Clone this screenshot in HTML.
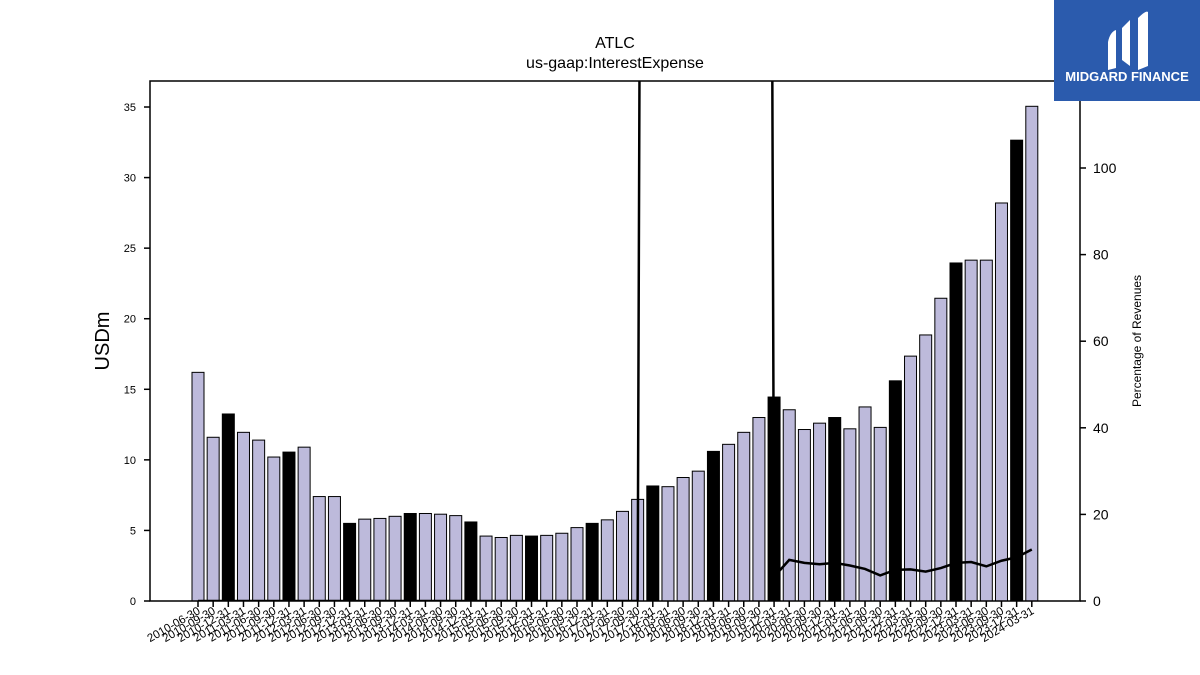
<!DOCTYPE html>
<html><head><meta charset="utf-8"><style>
body{margin:0;background:#fff;width:1200px;height:675px;overflow:hidden;font-family:"Liberation Sans","DejaVu Sans",sans-serif}
svg{display:block}
</style></head><body>
<svg id="chart" width="1200" height="675" viewBox="0 0 1200 675">
<text x="615" y="48" text-anchor="middle" font-size="16">ATLC</text>
<text x="615" y="68" text-anchor="middle" font-size="16">us-gaap:InterestExpense</text>
<g id="bars"></g>
<g id="xt"></g>
<g id="yl"></g>
<g id="yr"></g>
<clipPath id="clip"><rect x="150" y="81" width="930" height="520"/></clipPath>
<path id="pline" clip-path="url(#clip)" fill="none" stroke="#000" stroke-width="2.5"/>
<rect x="150" y="81" width="930" height="520" fill="none" stroke="#000" stroke-width="1.5"/>
<text transform="translate(109,341) rotate(-90)" text-anchor="middle" font-size="20">USDm</text>
<text transform="translate(1141,341) rotate(-90)" text-anchor="middle" font-size="12">Percentage of Revenues</text>
<g>
<rect x="1054" y="0" width="146" height="101" fill="#2b5bad"/>
<path d="M1108 42 Q1110 32 1116 30 L1116 68 L1108 70 Z" fill="#fff"/>
<path d="M1122 28 L1130 20 L1130 66 L1122 60 Z" fill="#fff"/>
<path d="M1138 18 Q1146 10 1148 12 L1148 66 L1138 70 Z" fill="#fff"/>
<text x="1127" y="81" text-anchor="middle" font-size="13" font-weight="bold" fill="#fff">MIDGARD FINANCE</text>
</g>
</svg>
<script>
const categories=["2010-06-30","2010-09-30","2010-12-31","2011-03-31","2011-06-30","2011-09-30","2011-12-31","2012-03-31","2012-06-30","2012-09-30","2012-12-31","2013-03-31","2013-06-30","2013-09-30","2013-12-31","2014-03-31","2014-06-30","2014-09-30","2014-12-31","2015-03-31","2015-06-30","2015-09-30","2015-12-31","2016-03-31","2016-06-30","2016-09-30","2016-12-31","2017-03-31","2017-06-30","2017-09-30","2017-12-31","2018-03-31","2018-06-30","2018-09-30","2018-12-31","2019-03-31","2019-06-30","2019-09-30","2019-12-31","2020-03-31","2020-06-30","2020-09-30","2020-12-31","2021-03-31","2021-06-30","2021-09-30","2021-12-31","2022-03-31","2022-06-30","2022-09-30","2022-12-31","2023-03-31","2023-06-30","2023-09-30","2023-12-31","2024-03-31"];
const expense=[16.2,11.6,13.25,11.95,11.4,10.2,10.55,10.9,7.4,7.4,5.5,5.8,5.85,6.0,6.2,6.2,6.15,6.05,5.6,4.6,4.5,4.65,4.6,4.65,4.8,5.2,5.5,5.75,6.35,7.2,8.15,8.1,8.75,9.2,10.6,11.1,11.95,13.0,14.45,13.55,12.15,12.6,13.0,12.2,13.75,12.3,15.6,17.35,18.85,21.45,23.95,24.15,24.15,28.2,32.65,35.05];
const pct=[0,0,0,0,0,0,0,0,0,0,0,0,0,0,0,0,0,0,0,0,0,0,0,0,0,0,0,0,0,0,1000,1000,1000,1000,1000,1000,1000,1000,5.6,9.5,8.8,8.5,8.8,8.2,7.4,5.9,7.2,7.3,6.8,7.6,8.8,9.0,8.0,9.3,10.1,11.9];
const leftTicks=[0,5,10,15,20,25,30,35];
const rightTicks=[0,20,40,60,80,100];
const NS="http://www.w3.org/2000/svg";
const x0=198,dx=15.16,base=601;
const xs=i=>x0+i*dx;
const yl=v=>base-v*14.114;
const yr=v=>base-v*4.33;
function mk(t,a,p){const e=document.createElementNS(NS,t);for(const k in a)e.setAttribute(k,a[k]);p.appendChild(e);return e;}
const bars=document.getElementById('bars'),xt=document.getElementById('xt');
expense.forEach((v,i)=>{
 const r=mk('rect',{x:xs(i)-6,y:yl(v),width:12,height:base-yl(v),fill:(i%4===2)?'#000':'#bdbadb',stroke:'#000','stroke-width':1},bars);
 
 
});
categories.forEach((c,i)=>{
 const t=mk('line',{x1:xs(i),x2:xs(i),y1:base,y2:base+6,stroke:'#000','stroke-width':1.5},xt);
 
 
 const l=mk('text',{transform:`translate(${xs(i)+3},${base+12}) rotate(-30)`,'text-anchor':'end','font-size':11.5},xt);
 l.textContent=c;
 
 
});
const ylg=document.getElementById('yl');
leftTicks.forEach(v=>{
 const t=mk('line',{x1:144,x2:150,y1:yl(v),y2:yl(v),stroke:'#000','stroke-width':1.5},ylg);
 
 
 const l=mk('text',{x:136,y:yl(v)+4,'text-anchor':'end','font-size':11},ylg);
 l.textContent=v;
 
 
});
const yrg=document.getElementById('yr');
rightTicks.forEach(v=>{
 const t=mk('line',{x1:1080,x2:1086,y1:yr(v),y2:yr(v),stroke:'#000','stroke-width':1.5},yrg);
 
 
 const l=mk('text',{x:1093,y:yr(v)+5,'font-size':14},yrg);
 l.textContent=v;
 
 
});
document.getElementById('pline').setAttribute('d',pct.map((v,i)=>(i?'L':'M')+xs(i)+' '+yr(v)).join(' '));
</script>
</body></html>
